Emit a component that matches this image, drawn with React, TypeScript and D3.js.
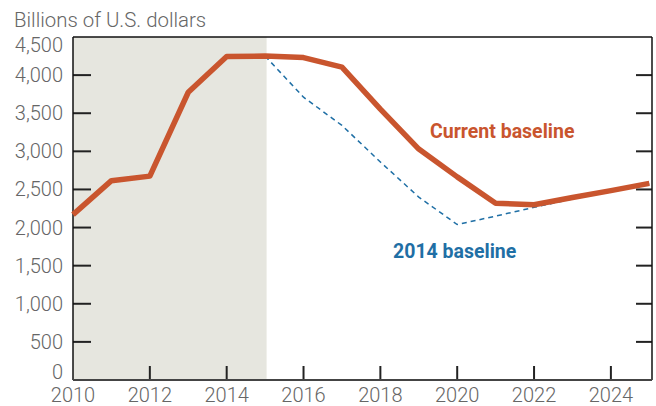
import { useRef, useEffect } from 'react';
import * as d3 from 'd3';

const YEARS = [2010, 2011, 2012, 2013, 2014, 2015, 2016, 2017, 2018, 2019, 2020, 2021, 2022, 2023, 2024, 2025];
const CURRENT = [2170, 2615, 2675, 3775, 4245, 4250, 4230, 4105, 3555, 3030, 2665, 2320, 2300, 2395, 2485, 2580];

const BASE2014_YEARS = [2015, 2016, 2017, 2018, 2019, 2020, 2021, 2022, 2023, 2024, 2025];
const BASE2014 = [4250, 3710, 3340, 2860, 2400, 2040, 2150, 2265, 2375, 2475, 2570];

const Y_TICKS = [0, 500, 1000, 1500, 2000, 2500, 3000, 3500, 4000, 4500];
const X_TICKS = [2010, 2012, 2014, 2016, 2018, 2020, 2022, 2024];
const HISTORY = [2010, 2015];

const ORANGE = '#c9552e';
const BLUE = '#1f6fa5';
const GRAY = '#666666';

export default function App() {
  const svgRef = useRef<SVGSVGElement>(null);

  useEffect(() => {
    if (!svgRef.current) return;
    const svg = d3.select(svgRef.current);
    svg.selectAll('*').remove();

    const left = 73;
    const right = 652;
    const top = 37;
    const bottom = 380;

    const x = d3.scaleLinear().domain([2010, 2025.07]).range([left, right]);
    const y = d3.scaleLinear().domain([0, 4500]).range([bottom, top]);

    // shaded history
    svg.append('rect')
      .attr('x', x(HISTORY[0]))
      .attr('y', top)
      .attr('width', x(HISTORY[1]) - x(HISTORY[0]) + 1.5)
      .attr('height', bottom - top)
      .attr('fill', '#e6e6df');

    // ticks
    const tg = svg.append('g').attr('stroke', '#222').attr('stroke-width', 2);
    Y_TICKS.filter((t) => t > 0 && t < 4500).forEach((t) => {
      tg.append('line').attr('x1', left).attr('x2', left + 18).attr('y1', y(t)).attr('y2', y(t));
      tg.append('line').attr('x1', right - 16).attr('x2', right).attr('y1', y(t)).attr('y2', y(t));
    });
    X_TICKS.filter((t) => t > 2010).forEach((t) => {
      tg.append('line').attr('x1', x(t)).attr('x2', x(t)).attr('y1', bottom).attr('y2', bottom - 14);
    });

    // frame
    svg.append('line').attr('x1', left).attr('x2', right).attr('y1', top).attr('y2', top)
      .attr('stroke', '#111').attr('stroke-width', 1.5);
    svg.append('line').attr('x1', right).attr('x2', right).attr('y1', top).attr('y2', bottom)
      .attr('stroke', '#111').attr('stroke-width', 1.5);
    svg.append('line').attr('x1', left).attr('x2', left).attr('y1', top).attr('y2', bottom)
      .attr('stroke', '#111').attr('stroke-width', 1.5);
    svg.append('line').attr('x1', left).attr('x2', right).attr('y1', bottom).attr('y2', bottom)
      .attr('stroke', '#444').attr('stroke-width', 2);

    // lines
    const line = d3.line<[number, number]>().x((d) => x(d[0])).y((d) => y(d[1]));
    svg.append('path')
      .attr('d', line(BASE2014_YEARS.map((yr, i) => [yr, BASE2014[i]])))
      .attr('fill', 'none')
      .attr('stroke', BLUE)
      .attr('stroke-width', 1.5)
      .attr('stroke-dasharray', '5,4');
    svg.append('path')
      .attr('d', line(YEARS.map((yr, i) => [yr, CURRENT[i]])))
      .attr('fill', 'none')
      .attr('stroke', ORANGE)
      .attr('stroke-width', 5.5)
      .attr('stroke-linejoin', 'round');

    // axis labels
    const lab = svg.append('g')
      .attr('font-family', 'Roboto, sans-serif')
      .attr('font-weight', 300)
      .attr('font-size', 20)
      .attr('fill', GRAY);
    Y_TICKS.forEach((t) => {
      let yy = y(t) + 7;
      if (t === 4500) yy = y(t) + 15;
      if (t === 0) yy = y(t) - 1;
      lab.append('text')
        .attr('x', 63)
        .attr('y', yy)
        .attr('text-anchor', 'end')
        .text(d3.format(',')(t));
    });
    X_TICKS.forEach((t) => {
      lab.append('text')
        .attr('x', x(t))
        .attr('y', 402)
        .attr('text-anchor', 'middle')
        .text(t);
    });
    lab.append('text')
      .attr('x', 14)
      .attr('y', 27)
      .attr('font-size', 20.4)
      .text('Billions of U.S. dollars');

    // series labels
    svg.append('text')
      .attr('x', 430)
      .attr('y', 138)
      .attr('font-family', 'Roboto, sans-serif')
      .attr('font-weight', 700)
      .attr('font-size', 19.5)
      .attr('fill', ORANGE)
      .text('Current baseline');
    svg.append('text')
      .attr('x', 393)
      .attr('y', 257.5)
      .attr('font-family', 'Roboto, sans-serif')
      .attr('font-weight', 700)
      .attr('font-size', 19.5)
      .attr('fill', BLUE)
      .text('2014 baseline');
  }, []);

  return (
    <svg
      ref={svgRef}
      width={656}
      height={406}
      style={{ position: 'absolute', left: 0, top: 0, background: '#fff' }}
    />
  );
}
